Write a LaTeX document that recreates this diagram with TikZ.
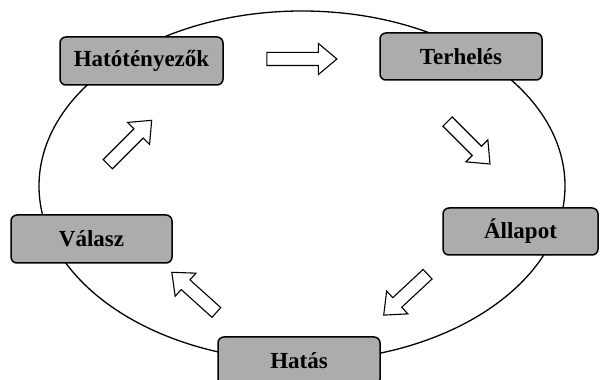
\documentclass[tikz,border=0pt]{standalone}
\usepackage{fontspec}
\setmainfont{Liberation Serif}
\usetikzlibrary{shapes.arrows}
\definecolor{boxgray}{RGB}{172,172,172}
\tikzset{
  stagebox/.style={draw=black, line width=1.5pt, fill=boxgray, rounded corners=6pt,
    minimum height=48pt, inner sep=0pt, font=\bfseries\fontsize{23}{25}\selectfont},
  flowarrow/.style={single arrow, draw=black, line width=1.1pt, fill=white,
    inner sep=6pt, single arrow head extend=9pt, single arrow tip angle=80,
    minimum height=60pt},
  ring/.style={draw=black, line width=1.3pt}
}
\begin{document}
\begin{tikzpicture}[x=1pt,y=1pt]
\useasboundingbox (0,0) rectangle (600,380);
\draw[ring] (302,194) ellipse [x radius=263, y radius=175];
\node[stagebox, minimum width=163pt] (hat) at (141.5,319) {Hatótényezők};
\node[stagebox, minimum width=162pt, minimum height=47pt] (ter) at (461,323.5) {Terhelés};
\node[stagebox, minimum width=155pt, minimum height=47pt] (all) at (520.5,148.5) {Állapot};
\node[stagebox, minimum width=162pt] (hts) at (299,19) {Hatás};
\node[stagebox, minimum width=161pt] (val) at (91.5,141) {Válasz};
\node[flowarrow, minimum height=70pt] (a1) at (298,321) {};
\node[flowarrow, rotate=-45] (a2) at (466,240) {};
\node[flowarrow, rotate=-137] (a3) at (408.5,88) {};
\node[flowarrow, rotate=138] (a4) at (197,85) {};
\node[flowarrow, minimum height=62pt, rotate=45] (a5) at (127,235) {};
\end{tikzpicture}
\end{document}
